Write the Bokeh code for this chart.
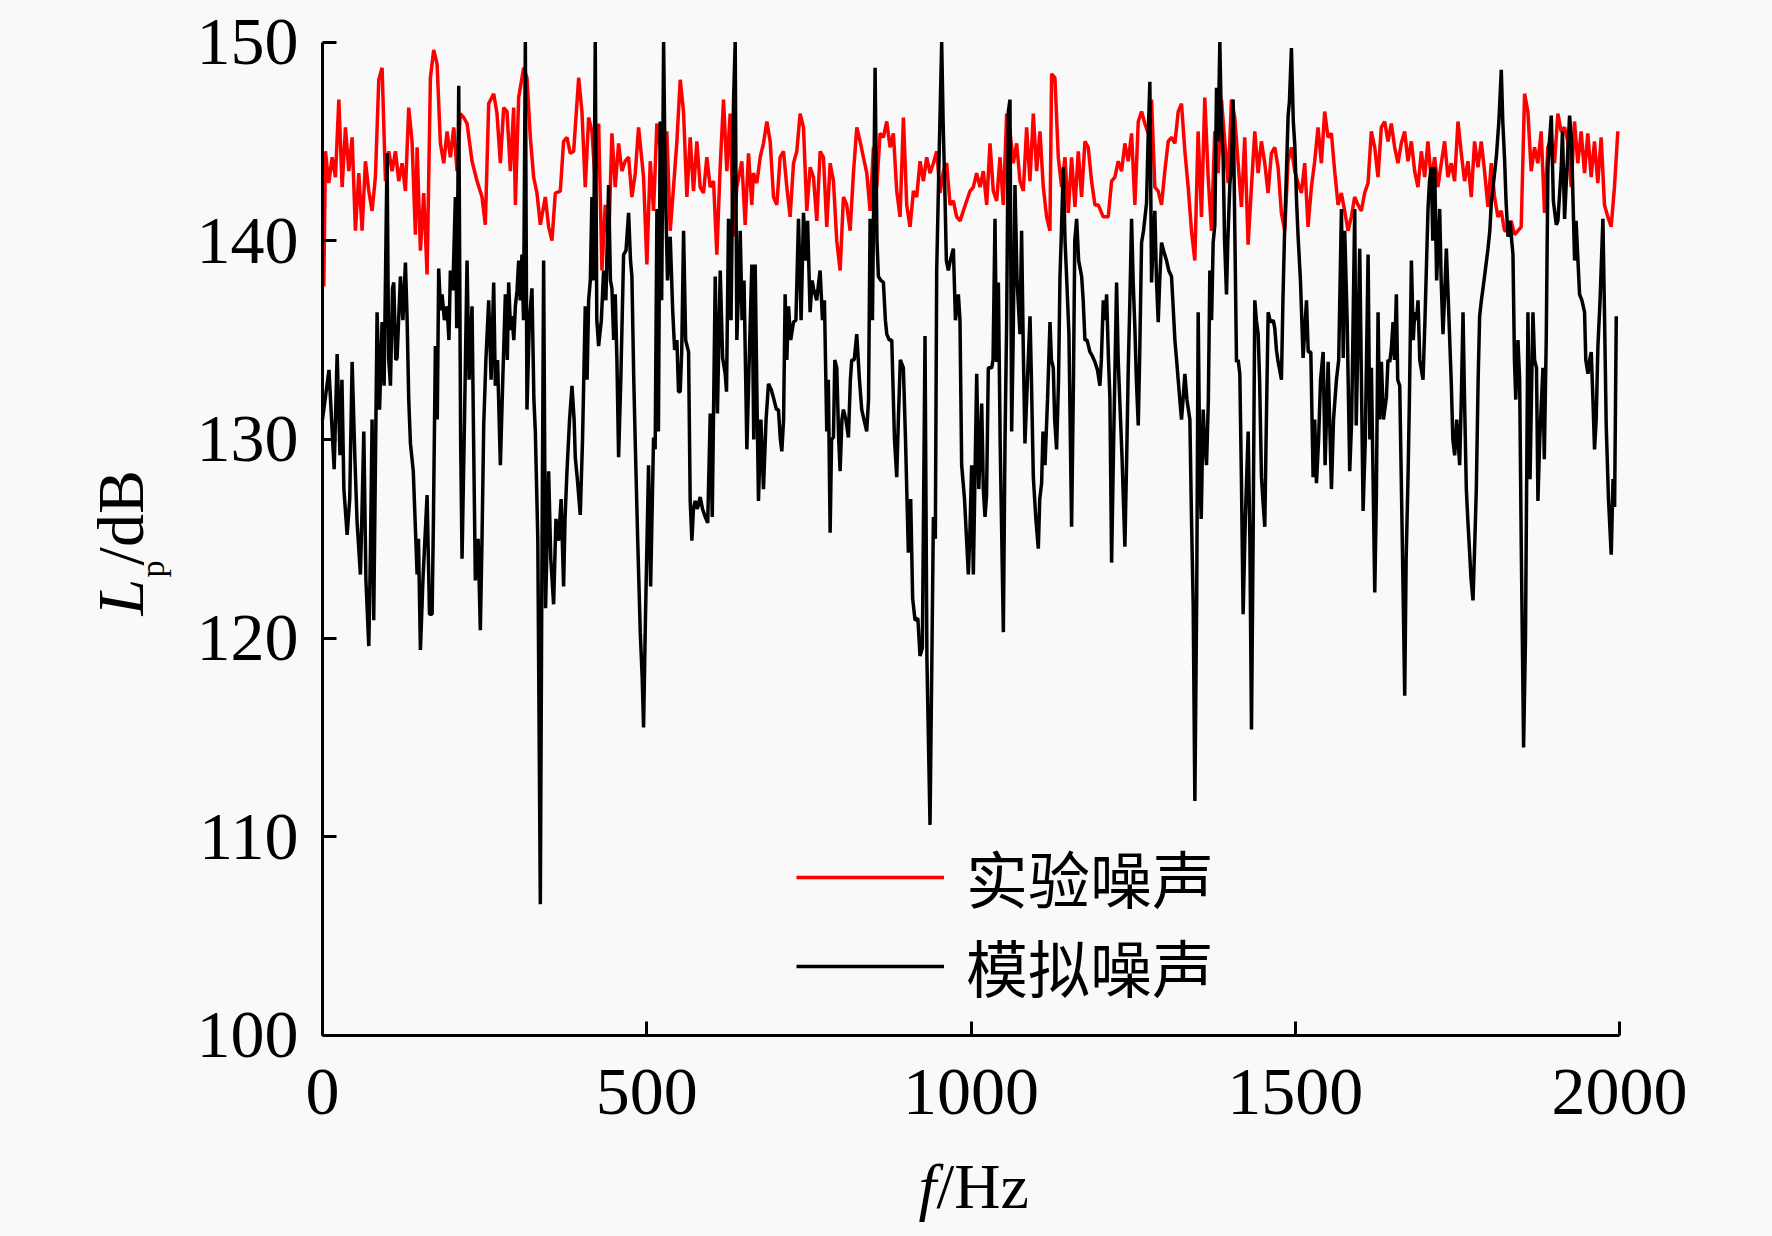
from math import pi
from bokeh.plotting import figure
from bokeh.models import Range1d, FixedTicker, Label, Legend, LegendItem
from bokeh.embed import file_html
from bokeh.resources import INLINE

# ---------------- data ----------------
x_ticks = [0, 500, 1000, 1500, 2000]
y_ticks = [100, 110, 120, 130, 140, 150]
series_names = ["实验噪声", "模拟噪声"]

# experimental noise (red)
exp_f_1 = [2.0, 4.6, 9.7, 14.9, 20.0, 25.2, 30.3, 35.4, 40.6, 45.7,
           50.8, 56.0, 61.1, 66.2, 71.4, 76.5, 81.6, 86.8, 91.9, 97.1,
           102.2, 107.3, 112.5, 117.6, 122.7, 127.9, 133.0, 138.1, 143.3, 145.9,
           151.0, 156.1, 161.3, 166.4, 171.5, 176.7, 181.8, 187.0, 192.1, 197.2,
           202.4, 207.5, 212.6, 217.8, 222.9, 230.6, 238.3, 246.0, 251.1, 256.3,
           264.0, 269.1, 274.3, 279.4, 284.5, 289.7, 294.8, 297.4, 302.5, 310.2,
           315.3, 320.5, 325.6, 330.7, 335.9, 343.6, 348.7, 353.9, 359.0, 366.7,
           371.8, 377.0, 382.1, 387.3, 395.0, 400.1, 405.2, 410.4, 415.5, 420.6,
           425.8, 430.9, 436.0, 441.2, 446.3, 451.4, 456.6, 461.7, 466.8, 472.0,
           477.1, 482.3, 487.4, 495.1, 500.2, 505.4, 510.5, 515.6, 520.8, 525.9,
           531.0, 536.2, 541.3, 546.5, 551.6, 556.7, 561.9, 567.0, 572.1, 577.3,
           582.4, 587.5, 592.7, 597.8, 603.0, 608.1, 613.2, 618.4, 623.5, 628.6,
           633.8, 638.9, 646.6, 651.8, 656.9, 662.0]
exp_lp_1 = [137.7, 144.5, 142.9, 144.2, 143.2, 147.1, 142.7, 145.7, 143.5, 145.2,
            140.5, 143.4, 140.5, 144.0, 142.5, 141.5, 143.2, 148.1, 148.7, 143.0,
            144.5, 143.5, 144.5, 143.0, 143.9, 142.5, 146.7, 145.0, 140.3, 144.7,
            139.5, 142.4, 138.3, 148.2, 149.6, 148.9, 144.9, 143.9, 145.5, 144.2,
            145.7, 143.5, 146.4, 146.2, 145.9, 144.0, 143.0, 142.2, 140.8, 146.9,
            147.4, 146.4, 143.9, 146.7, 146.5, 143.5, 146.7, 141.8, 147.2, 148.7,
            148.2, 145.2, 143.2, 142.4, 140.8, 142.2, 140.7, 140.0, 142.4, 142.5,
            145.0, 145.2, 144.4, 144.5, 148.2, 146.5, 142.7, 146.2, 145.5, 142.9,
            145.9, 138.5, 141.8, 139.8, 145.4, 142.7, 144.9, 143.5, 144.0, 144.2,
            142.2, 143.4, 145.7, 143.2, 138.8, 144.0, 141.5, 145.9, 144.7, 142.9,
            145.5, 140.5, 142.7, 145.0, 148.1, 146.5, 142.2, 145.2, 142.5, 145.0,
            142.7, 142.4, 144.2, 142.7, 143.0, 139.3, 143.7, 147.1, 143.5, 146.4,
            140.2, 142.7, 144.0, 140.8, 144.4, 141.8]

exp_f_2 = [664.6, 669.8, 674.9, 680.0, 685.2, 690.3, 695.5, 700.6, 705.7, 710.9,
           716.0, 721.1, 726.3, 731.4, 736.5, 741.7, 746.8, 752.0, 757.1, 762.2,
           767.4, 772.5, 777.6, 782.8, 787.9, 793.0, 798.2, 803.3, 808.4, 813.6,
           818.7, 823.9, 829.0, 834.1, 839.3, 844.4, 849.5, 854.7, 859.8, 864.9,
           870.1, 875.2, 880.3, 885.5, 890.6, 895.8, 900.9, 906.0, 911.2, 916.3,
           921.4, 926.6, 931.7, 936.8, 942.0, 947.1, 952.3, 957.4, 962.5, 967.7,
           972.8, 977.9, 983.1, 988.2, 993.3, 998.5, 1003.6, 1008.7, 1013.9, 1019.0,
           1024.2, 1029.3, 1034.4, 1039.6, 1044.7, 1049.8, 1055.0, 1060.1, 1065.2, 1070.4,
           1075.5, 1080.7, 1085.8, 1090.9, 1096.1, 1101.2, 1106.3, 1111.5, 1116.6, 1121.7,
           1124.3, 1129.4, 1134.6, 1139.7, 1144.9, 1150.0, 1155.1, 1160.3, 1165.4, 1170.5,
           1175.7, 1180.8, 1185.9, 1191.1, 1196.2, 1203.9, 1211.6, 1216.8, 1221.9, 1227.0,
           1232.2, 1237.3, 1242.4, 1247.6, 1252.7, 1257.9, 1263.0, 1268.1, 1273.3, 1278.4,
           1283.5, 1288.7, 1293.8, 1298.9, 1304.1, 1309.2, 1314.4, 1319.5, 1324.6, 1329.8,
           1334.9]
exp_lp_2 = [143.4, 142.9, 144.2, 144.9, 146.0, 145.0, 142.2, 141.8, 144.2, 144.5,
            142.7, 141.2, 143.9, 144.5, 146.4, 145.7, 141.5, 143.7, 143.2, 141.0,
            144.5, 144.2, 140.7, 143.9, 143.0, 140.0, 138.5, 142.2, 141.8, 140.5,
            143.4, 145.7, 145.0, 144.2, 143.4, 141.5, 144.7, 142.7, 145.4, 145.2,
            146.0, 144.7, 145.4, 142.5, 141.2, 146.2, 141.8, 140.7, 142.5, 142.2,
            144.0, 143.0, 144.2, 143.4, 143.9, 144.5, 142.4, 143.5, 143.9, 141.8,
            142.0, 141.2, 141.0, 141.5, 142.0, 142.5, 142.7, 143.4, 142.7, 143.5,
            141.8, 144.9, 142.5, 142.0, 144.2, 141.8, 146.4, 145.5, 143.9, 144.9,
            143.0, 142.5, 145.7, 143.0, 146.4, 143.5, 145.5, 142.7, 141.2, 140.5,
            148.4, 148.2, 144.2, 142.7, 144.2, 141.4, 144.2, 141.7, 144.5, 142.2,
            145.0, 144.7, 143.0, 141.8, 141.8, 141.2, 141.2, 143.0, 143.2, 144.0,
            143.5, 144.9, 144.0, 145.4, 141.8, 146.0, 146.5, 145.9, 145.4, 147.1,
            142.7, 142.5, 141.8, 143.5, 145.0, 145.2, 144.9, 146.5, 146.9, 144.5,
            142.7]

exp_f_3 = [1340.0, 1345.1, 1350.2, 1355.4, 1360.5, 1365.7, 1370.8, 1375.9, 1381.1, 1386.2,
           1391.3, 1396.5, 1401.6, 1406.7, 1411.9, 1417.0, 1422.1, 1427.3, 1432.4, 1437.6,
           1442.7, 1447.8, 1453.0, 1458.1, 1463.2, 1468.4, 1473.5, 1478.6, 1483.8, 1488.9,
           1494.1, 1499.2, 1504.3, 1509.5, 1514.6, 1519.7, 1524.9, 1530.0, 1535.1, 1540.3,
           1545.4, 1550.5, 1555.7, 1560.8, 1566.0, 1571.1, 1576.2, 1581.4, 1586.5, 1591.6,
           1596.8, 1601.9, 1607.0, 1612.2, 1617.3, 1622.5, 1627.6, 1632.7, 1637.9, 1643.0,
           1648.1, 1653.3, 1658.4, 1663.5, 1668.7, 1673.8, 1679.0, 1684.1, 1689.2, 1694.4,
           1699.5, 1704.6, 1709.8, 1714.9, 1720.0, 1725.2, 1730.3, 1735.4, 1740.6, 1745.7,
           1750.9, 1756.0, 1761.1, 1766.3, 1771.4, 1776.5, 1781.7, 1786.8, 1791.9, 1797.1,
           1802.2, 1807.3, 1812.5, 1817.6, 1822.7, 1827.9, 1833.0, 1838.2, 1843.3, 1848.4,
           1853.6, 1858.7, 1863.8, 1869.0, 1874.1, 1879.2, 1884.4, 1889.5, 1894.7, 1899.8,
           1904.9, 1910.1, 1915.2, 1920.3, 1925.5, 1930.6, 1935.7, 1940.9, 1946.0, 1951.1,
           1956.3, 1961.4, 1966.5, 1971.7, 1976.8, 1982.0, 1987.1, 1992.2, 1997.4]
exp_lp_3 = [140.5, 139.0, 145.5, 141.2, 147.2, 143.2, 140.5, 145.5, 143.4, 147.1,
            145.0, 142.9, 147.1, 146.2, 143.9, 141.7, 145.2, 139.8, 142.7, 145.5,
            143.4, 145.0, 143.9, 142.4, 144.4, 144.7, 143.7, 141.4, 140.5, 144.0,
            144.7, 143.5, 142.9, 142.4, 143.9, 140.7, 142.7, 144.0, 145.7, 143.9,
            146.5, 145.2, 145.4, 143.5, 141.8, 142.4, 141.5, 140.5, 141.2, 142.2,
            141.8, 141.5, 142.4, 142.9, 145.5, 144.7, 143.2, 145.7, 146.0, 145.0,
            145.9, 144.7, 143.9, 144.9, 145.5, 144.0, 145.0, 143.5, 142.7, 144.5,
            143.2, 145.0, 143.0, 144.2, 142.7, 143.9, 145.0, 143.2, 143.9, 143.0,
            146.0, 144.4, 143.0, 144.0, 142.2, 145.0, 143.7, 145.0, 143.5, 141.7,
            143.9, 142.2, 141.2, 141.5, 140.5, 140.5, 141.0, 140.3, 140.5, 140.7,
            147.4, 146.5, 143.5, 144.7, 143.9, 145.5, 141.4, 144.7, 145.2, 143.9,
            146.4, 145.5, 145.7, 145.0, 142.7, 146.0, 143.9, 145.5, 143.4, 145.4,
            143.2, 145.0, 142.9, 145.2, 141.8, 141.2, 140.7, 142.7, 145.5]

# simulated noise (black)
sim_f_1 = [0, 10, 18, 22.6, 27, 30, 33, 38, 42, 45.7,
           50, 53.4, 58.5, 61, 63.7, 67, 71.4, 74, 76.5, 79,
           84.2, 88, 91.9, 95, 99.6, 102, 104.8, 108, 109.9, 113,
           115, 118, 120.2, 124, 127.9, 130.4, 133, 135.6, 140, 145.9,
           148, 151, 155, 161.3, 165, 169, 171, 174.1, 177, 179.2,
           182, 184.4, 188, 192.1, 195, 197.2, 201, 204.9, 207, 210.1,
           213, 215.2, 219, 222.9, 226, 230.6, 233, 235.7, 240, 243.4,
           246, 248.6, 252, 256.3, 260, 264.0, 266.5, 270, 274.3, 278,
           282.0, 285, 287.1, 290, 292.2, 295, 297.4, 300, 302.5, 305,
           307.6, 310, 312.8, 315.3, 319, 323.0, 326, 328.2, 332, 335.9,
           338, 341.0, 344, 348.7, 352, 356.4, 360, 364.1, 368, 371.8,
           374, 377.0, 381, 384.7, 388, 389.8, 393, 397.5, 401, 405.2,
           408, 410.4, 413, 415.5, 418, 420.6, 423, 425.8, 430, 433.5,
           437, 441.2, 444, 446.3, 449, 451.4, 454, 456.6, 460, 464.3,
           468, 472.0, 475, 477.1, 480, 482.3, 486, 490.0, 493, 495.1,
           498]
sim_lp_1 = [131.0, 133.5, 128.5, 134.3, 129.2, 133.0, 127.5, 125.2, 127.0, 133.9,
            129, 125.8, 123.2, 126.5, 130.4, 122.9, 119.6, 124.5, 131.0, 120.9,
            136.4, 131.5, 135.9, 132.7, 144.4, 134.1, 132.7, 137.6, 137.9, 134.0,
            134.1, 136.5, 138.2, 136, 138.9, 136.2, 132, 129.8, 128.4, 123.2,
            125, 119.4, 123, 127.2, 121.2, 121.2, 125.8, 134.7, 131, 138.6,
            136.5, 137.3, 136, 136.7, 135, 138.5, 137.5, 142.2, 135.6, 147.8,
            130, 124.0, 131, 139.0, 133, 136.7, 130, 122.9, 125, 120.4,
            125, 130.7, 134, 137.0, 133, 137.9, 132.7, 134, 128.7, 133,
            137.3, 134, 137.9, 135.5, 136.2, 135, 136.7, 137.5, 139.0, 137,
            139.3, 136, 150.0, 131.5, 136, 137.6, 132, 130.4, 125, 106.6,
            121.2, 139.0, 121.5, 128.4, 124, 121.7, 126, 124.9, 127, 122.6,
            126, 128.4, 131, 132.7, 131, 129.1, 128.0, 126.2, 130, 136.7,
            133, 137.0, 138, 142.2, 138, 150.0, 136, 134.7, 136, 138.5,
            137, 142.8, 138, 137.6, 135, 137.3, 134, 129.1, 133, 139.3,
            139.5, 141.4, 139, 138.2, 133, 129.8, 125, 120.3, 118, 115.5,
            121]

sim_f_2 = [502.8, 506, 510.5, 513, 515.7, 518, 520.8, 523, 526.0, 528.5,
           532, 536.2, 540, 543, 546.5, 549, 551.6, 554, 556.8, 560,
           564.5, 567, 569.6, 572, 574.7, 578, 582.4, 586, 590.2, 594,
           597.9, 601, 605.6, 609, 613.3, 617, 621.0, 623, 626.1, 630,
           633.8, 636.4, 638.9, 641, 644.1, 647, 650, 654.4, 658, 662.1,
           665, 667.2, 670, 672.3, 676, 680.0, 684, 687.7, 692, 695.4,
           700, 703.1, 706, 708.3, 711, 713.4, 716, 718.6, 722, 726.3,
           730, 734.0, 738, 741.7, 745, 748, 751.9, 755, 757.1, 762,
           767.3, 771, 774, 777.6, 780, 782.8, 785, 787.9, 790, 793.0,
           796, 798.2, 801, 803.3, 807, 811.0, 814, 816.1, 820, 823.8,
           828, 831.5, 835, 839.2, 842, 844.4, 848, 852.1, 855, 857.2,
           861, 864.9, 868, 870.1, 874, 877.8, 882, 885.5, 888, 891,
           895.7, 899, 903.4, 907, 910, 913.7, 918, 921.4, 925, 929.1,
           932, 936.8, 940, 942.0, 945, 947.1, 950, 954.8, 957, 959.9,
           962, 965.1, 968, 972.8, 976, 980.5, 983, 985.6, 990, 995.9,
           998]
sim_lp_2 = [128.7, 122.6, 130.1, 129.5, 141.6, 130.4, 146.0, 137, 150.0, 143.1,
            138, 140.2, 136.5, 134.5, 135.0, 132.4, 132.4, 134.5, 140.5, 135,
            134.4, 126.9, 124.9, 126.5, 126.9, 126.5, 127.1, 126.5, 126.1, 125.8,
            131.3, 126.1, 138.2, 131.3, 138.5, 134.1, 133.3, 132.4, 141.1, 136,
            147, 150.0, 135.0, 137, 140.5, 136, 138, 129.5, 134, 138.8,
            130, 138.8, 132, 126.9, 131, 127.5, 131, 132.8, 132.5, 132.1,
            131.5, 131.5, 130, 129.4, 131, 137.3, 134, 136.7, 135, 135.9,
            136, 141.1, 136, 141.4, 139, 141, 136.4, 138, 137.6, 137,
            138.5, 136, 137, 130.4, 133, 125.3, 130, 130.1, 134, 133.6,
            130, 128.4, 131, 131.5, 131, 130.1, 133, 134.0, 134, 135.3,
            133, 131.5, 131, 130.4, 132, 141.1, 136, 148.7, 140, 138.2,
            138, 137.9, 136, 135.3, 135, 135.0, 130, 128.1, 131, 134,
            133.6, 130, 124.3, 127, 122, 120.9, 121, 119.1, 119.5, 135.2,
            119, 110.6, 120, 126.1, 125, 138.5, 143, 150.0, 146, 142.2,
            139, 138.5, 139, 139.6, 136, 137.3, 136, 128.7, 127, 123.2,
            125]

sim_f_3 = [1001.0, 1003.6, 1008.8, 1012, 1016.5, 1019, 1021.6, 1024, 1026.7, 1031.9,
           1034, 1037.0, 1039.5, 1042.2, 1045, 1049.9, 1052.4, 1055, 1057.6, 1060.1,
           1062.7, 1065, 1067.8, 1071, 1075.5, 1078, 1080.7, 1083.2, 1087, 1091.0,
           1093, 1096.1, 1100, 1103.8, 1106, 1108.9, 1111, 1114.1, 1118, 1121.8,
           1124, 1126.9, 1129, 1132.0, 1135, 1137.2, 1139, 1142.3, 1145, 1147.4,
           1151, 1155.1, 1158, 1160, 1162.9, 1166, 1170.6, 1173, 1175.7, 1179,
           1183.4, 1187, 1191.1, 1195, 1198.8, 1201, 1204.0, 1207, 1209.1, 1212,
           1214.2, 1216.8, 1220, 1224.5, 1227, 1229.6, 1233, 1237.3, 1240, 1242.5,
           1245, 1247.6, 1250, 1252.7, 1255, 1257.9, 1260, 1263.0, 1266, 1270.7,
           1273, 1275.8, 1278.4, 1281, 1283.5, 1286, 1288.7, 1291, 1293.8, 1297,
           1301.5, 1305, 1309.2, 1312, 1314.4, 1317, 1319.5, 1322, 1324.6, 1327,
           1329.8, 1333, 1337.5, 1340, 1342.6, 1345.2, 1348, 1350.3, 1353, 1355,
           1358.0, 1360, 1363.2, 1366, 1368.3, 1371, 1373.4, 1376, 1378.6, 1381,
           1383.7, 1386, 1388.8, 1391, 1394.0, 1396, 1399.1, 1402, 1404.2, 1407,
           1409.4, 1412, 1414.5, 1417, 1419.6, 1423, 1427.4, 1430, 1432.5, 1435,
           1437.6, 1440, 1442.8, 1445, 1447.9, 1450, 1453.0, 1455, 1458.2, 1461,
           1463.3, 1466, 1468.4, 1471, 1473.6, 1476, 1478.7, 1481, 1483.8, 1486,
           1489.0, 1491, 1494.1, 1497, 1499.3, 1502, 1504.4, 1508, 1512.1]
sim_lp_3 = [128.7, 123.2, 133.3, 127.5, 131.8, 127.5, 126.1, 127.2, 133.6, 133.6,
            134, 141.1, 133.9, 137.9, 129.8, 120.3, 129.8, 136, 146.5, 147.1,
            130.4, 135, 142.8, 138, 135.3, 140.5, 134.4, 129.8, 133, 136.2,
            133.3, 128.1, 126, 124.5, 127, 127.8, 130.4, 128.7, 132, 135.9,
            134, 133.6, 131, 129.5, 133, 138.2, 140, 143.7, 140, 138.2,
            135.3, 125.6, 133, 140, 141.1, 139, 138.2, 137, 135.0, 135,
            134.4, 134.2, 133.9, 133.5, 132.7, 134, 137.0, 136, 137.3, 134,
            132.1, 123.8, 130, 137.9, 134, 131.8, 129, 124.6, 129, 133.6,
            137, 141.1, 138, 135.6, 133, 130.7, 134, 139.9, 140.5, 141.9,
            145, 148.0, 137.9, 140, 141.5, 138, 135.9, 138, 139.9, 139.5,
            139.0, 138.5, 138.2, 136.5, 135.0, 134, 133.0, 132, 131.0, 132,
            133.3, 132, 131.0, 126, 121.7, 111.8, 122, 136.4, 128, 126,
            131.5, 130, 128.7, 132, 138.5, 136, 139.9, 140.8, 147.7, 145,
            150.0, 146, 144.2, 140, 137.3, 140, 142.8, 144, 147.1, 140,
            133.9, 134, 133.3, 128, 121.2, 126, 130.4, 125, 115.4, 125,
            137.0, 136, 135.3, 133, 128.1, 127, 125.6, 130, 136.4, 136,
            135.9, 136, 135.6, 134.5, 133.9, 133.5, 133.0, 137, 140.8, 143,
            146.3, 147, 149.7, 146, 144.8, 142, 140.2, 138, 134.1]

sim_f_4 = [1517.3, 1520, 1524, 1527.5, 1530, 1532.7, 1536, 1539, 1543.0, 1546,
           1550.7, 1553, 1555.8, 1559, 1563.5, 1567, 1571.2, 1574, 1576.3, 1580,
           1584.0, 1587, 1591.7, 1594, 1599.4, 1602, 1604.6, 1608, 1612.3, 1615,
           1617.4, 1620, 1622.6, 1625, 1627.7, 1630, 1632.8, 1636, 1640.5, 1643,
           1645.7, 1648, 1650.8, 1653, 1655.9, 1658, 1661.1, 1665, 1668.8, 1671,
           1673.9, 1676, 1679.1, 1682, 1684.2, 1687, 1689.3, 1692, 1697.0, 1700,
           1704.7, 1707, 1709.9, 1712, 1715.0, 1718, 1722.7, 1725, 1727.8, 1730,
           1733.0, 1736, 1740.7, 1743, 1745.8, 1749, 1753.5, 1756, 1758.7, 1761,
           1763.8, 1766, 1768.9, 1771, 1774.1, 1777, 1779.2, 1782, 1784.3, 1787,
           1789.5, 1793, 1797.2, 1800, 1802.3, 1806, 1810.0, 1814, 1817.7, 1820,
           1822.9, 1825, 1828.0, 1831, 1835.7, 1838, 1840, 1843.4, 1846, 1848.5,
           1852.1, 1855, 1858.8, 1862, 1866.5, 1869, 1872, 1874.2, 1877, 1881.9,
           1884, 1887, 1889.6, 1892, 1894.8, 1898, 1902.5, 1905, 1910.2, 1912,
           1915.3, 1918, 1923.0, 1926, 1930.7, 1933, 1938.4, 1942, 1946.1, 1948,
           1951.3, 1954, 1956.4, 1959, 1961.5, 1964, 1966.7, 1970, 1974.4, 1977,
           1979.5, 1983, 1987.2, 1990, 1992.4, 1995]
sim_lp_4 = [137.0, 134.4, 134.4, 128.1, 131, 127.8, 130, 133, 134.4, 128.7,
            133.9, 131, 127.5, 131, 133.0, 134, 141.6, 134.1, 140.5, 136,
            128.4, 131, 141.6, 130.7, 139.6, 133, 126.4, 130, 139.3, 130,
            133.6, 128, 122.3, 127, 136.4, 131, 133.9, 131, 132.1, 134,
            133.9, 134.5, 135.9, 134, 137.3, 133, 132.7, 125, 117.1, 124,
            128.1, 132, 139.0, 135, 136.4, 136, 137.0, 134, 133.0, 136,
            141.6, 143, 143.7, 140, 143.7, 138, 141.6, 138, 135.3, 137,
            139.6, 137, 132.7, 130, 129.2, 131, 128.7, 132, 136.4, 132,
            127.5, 126, 124.3, 123, 121.9, 125, 127.5, 133, 136.2, 137,
            137.6, 138.5, 139.6, 140.5, 141.9, 143, 144.2, 146, 148.6, 146,
            144.0, 142, 140.2, 141, 139.3, 134, 132, 135.0, 133, 124.6,
            114.5, 120, 136.4, 128, 136.4, 134, 133.6, 126.9, 130, 133.6,
            129, 135, 143.7, 145, 146.3, 142, 140.8, 141, 143.7, 145.5,
            141.1, 143, 146.3, 145, 139.0, 141, 137.3, 137, 136.4, 134,
            133.3, 134, 134.4, 132, 129.5, 131, 134.7, 137, 141.1, 136,
            130.7, 127, 124.2, 128, 126.6, 136.2]

exp_f = exp_f_1 + exp_f_2 + exp_f_3
exp_lp = exp_lp_1 + exp_lp_2 + exp_lp_3
sim_f = sim_f_1 + sim_f_2 + sim_f_3 + sim_f_4
sim_lp = sim_lp_1 + sim_lp_2 + sim_lp_3 + sim_lp_4

# ---------------- figure ----------------
BG = "#f9f9f9"
SERIF = "Liberation Serif"

# the frame covers the whole canvas; axes are pinned at f=0 and Lp=100
p = figure(width=1772, height=1236, output_backend="svg", toolbar_location=None,
           x_range=Range1d(-496.5, 2235.9), y_range=Range1d(89.884, 152.089),
           min_border_left=0, min_border_right=0, min_border_top=0, min_border_bottom=0)
p.background_fill_color = BG
p.border_fill_color = BG
p.outline_line_color = None
p.grid.visible = False

r_exp = p.line(exp_f, exp_lp, line_color="#ff0000", line_width=3.5)
r_sim = p.line(sim_f, sim_lp, line_color="#000000", line_width=3.5)

p.xaxis.ticker = FixedTicker(ticks=x_ticks)
p.yaxis.ticker = FixedTicker(ticks=y_ticks)
p.xaxis.fixed_location = 100
p.yaxis.fixed_location = 0
p.xaxis.bounds = (0, 2000)
p.yaxis.bounds = (100, 150)
for ax in (p.xaxis[0], p.yaxis[0]):
    ax.axis_line_width = 3
    ax.axis_line_color = "black"
    ax.major_tick_line_width = 3
    ax.major_tick_line_color = "black"
    ax.major_tick_in = 14
    ax.major_tick_out = 0
    ax.minor_tick_line_color = None
    ax.major_label_text_font = SERIF
    ax.major_label_text_font_size = "68px"
    ax.major_label_text_color = "black"
p.yaxis.major_label_standoff = 24
p.xaxis.major_label_standoff = 35

# axis titles (italic symbols drawn as separate labels)
p.add_layout(Label(x=919.0, y=92.40, text="f", text_font=SERIF, text_font_size="64px",
                   text_font_style="italic", text_align="left", text_baseline="alphabetic",
                   text_color="black"))
p.add_layout(Label(x=946.8, y=92.40, text="/Hz", text_font=SERIF, text_font_size="64px",
                   text_align="left", text_baseline="alphabetic", text_color="black"))

p.add_layout(Label(x=-311.6, y=121.14, text="L", angle=pi / 2, text_font=SERIF,
                   text_font_size="66px", text_font_style="italic", text_align="left",
                   text_baseline="alphabetic", text_color="black"))
p.add_layout(Label(x=-262.6, y=123.05, text="p", angle=pi / 2, text_font=SERIF,
                   text_font_size="34px", text_align="left",
                   text_baseline="alphabetic", text_color="black"))
p.add_layout(Label(x=-311.6, y=123.66, text="/dB", angle=pi / 2, text_font=SERIF,
                   text_font_size="66px", text_align="left",
                   text_baseline="alphabetic", text_color="black"))

legend_style = dict(orientation="vertical", padding=0, margin=0, spacing=0,
                    glyph_width=148, glyph_height=20, label_standoff=22,
                    label_text_font="Noto Sans CJK SC", label_text_font_size="62px",
                    label_text_color="black", border_line_color=None,
                    background_fill_alpha=0)
legend_exp = Legend(items=[LegendItem(label=series_names[0], renderers=[r_exp])],
                    location=(796, 314), **legend_style)
legend_sim = Legend(items=[LegendItem(label=series_names[1], renderers=[r_sim])],
                    location=(796, 225), **legend_style)
p.add_layout(legend_exp)
p.add_layout(legend_sim)

open("out.html", "w").write(file_html(p, INLINE))
